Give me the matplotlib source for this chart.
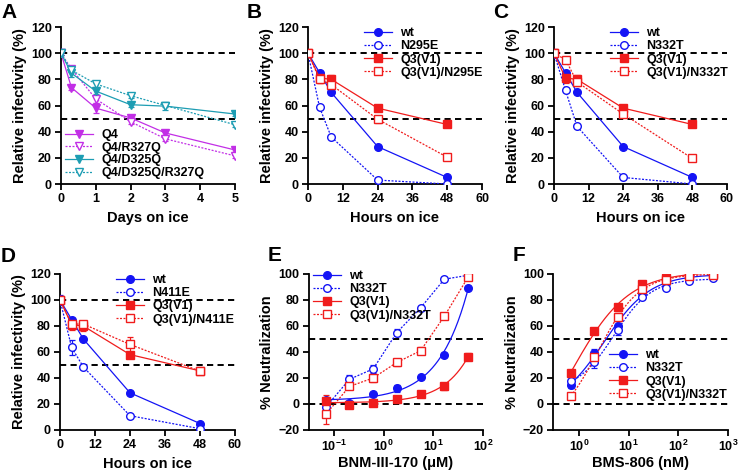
import numpy as np
import matplotlib
matplotlib.use("Agg")
import matplotlib.pyplot as plt
from matplotlib.lines import Line2D

plt.rcParams['font.family'] = ['Liberation Sans', 'DejaVu Sans']
plt.rcParams['font.weight'] = 'bold'
plt.rcParams['axes.labelweight'] = 'bold'
plt.rcParams['mathtext.default'] = 'bf'

BLUE = '#1414f5'
RED = '#f01c1c'
MAG = '#c22fe6'
TEAL = '#1d9db3'

# ---------------- data ----------------
# Panel A (days on ice)
a_days = [0, 0.3, 1, 2, 3, 5]
a_labels = ['Q4', 'Q4/R327Q', 'Q4/D325Q', 'Q4/D325Q/R327Q']
a_q4 = [100, 73.7, 58, 50.5, 39, 26]
a_q4_err = [1.5, 1.5, 4, 1.5, 1.5, 1.5]
a_q4r = [100, 88, 65, 47.6, 34.5, 21.5]
a_q4r_err = [1.5, 2, 3, 1.5, 1.5, 1.5]
a_q4d = [100, 84.7, 71, 60.6, 59.5, 53.5]
a_q4d_err = [1.5, 3, 2.5, 1.5, 3, 1.5]
a_q4dr = [100, 87, 76.5, 67.5, 60, 45.3]
a_q4dr_err = [1.5, 1.5, 2, 1.5, 1.5, 1.5]

# Panels B-D (hours on ice)
hours = [0, 4, 8, 24, 48]
wt_cold = [100, 85, 70, 28.6, 5]
wt_cold_err = [1.5, 1.5, 1.0, 1.0, 1.0]
q3_cold = [100, 81, 80, 58, 45.5]
q3_cold_err = [2, 4, 3.5, 1.5, 1.0]

b_labels = ['wt', 'N295E', 'Q3(V1)', 'Q3(V1)/N295E']
b_n295e = [100, 58.5, 36, 3, 0]
b_n295e_err = [1, 1.5, 1, 1, 0.5]
b_q3n295e = [100, 80, 76, 49.5, 20.5]
b_q3n295e_err = [1.5, 3, 2, 2.5, 1.5]

c_labels = ['wt', 'N332T', 'Q3(V1)', 'Q3(V1)/N332T']
c_n332t = [100, 71.5, 44, 5, 0]
c_n332t_err = [3.5, 1.5, 1.5, 1, 0.5]
c_q3n332t = [100, 95, 78, 53.5, 19.5]
c_q3n332t_err = [1.5, 1.5, 3, 1.5, 1.5]

d_labels = ['wt', 'N411E', 'Q3(V1)', 'Q3(V1)/N411E']
d_n411e = [100, 63.5, 48.5, 11, 1]
d_n411e_err = [4, 6, 1.5, 1.5, 0.5]
d_q3n411e = [100, 81.5, 81.5, 65.8, 45.3]
d_q3n411e_err = [2, 2, 2.5, 6, 1]

# Panel E (BNM-III-170, uM)
e_conc = [0.0686, 0.206, 0.617, 1.85, 5.56, 16.7, 50]
e_labels = ['wt', 'N332T', 'Q3(V1)', 'Q3(V1)/N332T']
e_wt = [3, 0.5, 8, 12, 21, 38, 89]
e_wt_err = [2, 1, 1.5, 3, 1.5, 1.5, 1.5]
e_n332t = [-2.5, 19, 27, 55, 74, 96, 99]
e_n332t_err = [2.5, 3, 3, 3, 1.5, 1.5, 1.5]
e_q3 = [2, -0.5, 1, 4, 8, 13.5, 36.5]
e_q3_err = [5, 1, 1, 1, 2, 3, 2.5]
e_q3n332t = [-8, 13.5, 20, 32, 41, 67.5, 97.5]
e_q3n332t_err = [7, 2, 3, 3, 2.5, 1.5, 1.5]

# Panel F (BMS-806, nM)
f_conc = [0.686, 2.06, 6.17, 18.5, 55.6, 167, 500]
f_labels = ['wt', 'N332T', 'Q3(V1)', 'Q3(V1)/N332T']
f_wt = [15, 39, 60, 85.4, 93, 97, 98.7]
f_wt_err = [3, 3.5, 4, 1.5, 1.5, 1, 1]
f_n332t = [17.5, 32, 57, 82, 89, 95, 97]
f_n332t_err = [2, 4, 4, 1.5, 1.5, 1.5, 1]
f_q3 = [24, 56, 74.4, 92, 97, 99.5, 100]
f_q3_err = [2.5, 2, 1.5, 1.5, 1, 1, 1]
f_q3n332t = [6, 36, 66.7, 88.5, 95.6, 98.7, 99.5]
f_q3n332t_err = [2, 2, 3, 1.5, 1, 1, 1]


# ---------------- helpers ----------------
def hill_fit(x, y):
    """4-parameter logistic fit by grid search (bottom/top solved linearly)."""
    x = np.asarray(x, float)
    y = np.asarray(y, float)
    lic = np.linspace(-2.5, 3.5, 601)
    hs = np.linspace(0.3, 4.0, 186)
    L, H = np.meshgrid(lic, hs, indexing='ij')
    s = 1.0 / (1.0 + (10 ** L[..., None] / x) ** H[..., None])
    sm = s.mean(-1)
    ym = y.mean()
    cov = ((s - sm[..., None]) * (y - ym)).sum(-1)
    var = ((s - sm[..., None]) ** 2).sum(-1) + 1e-12
    b = cov / var
    a = ym - b * sm
    res = ((a[..., None] + b[..., None] * s - y) ** 2).sum(-1)
    i = np.unravel_index(np.argmin(res), res.shape)
    return a[i], b[i], 10 ** L[i], H[i]


def hill_curve(params, xx):
    a, b, ic, h = params
    return a + b / (1.0 + (ic / xx) ** h)


def style_axes(ax):
    for sp in ['top', 'right']:
        ax.spines[sp].set_visible(False)
    for sp in ['left', 'bottom']:
        ax.spines[sp].set_linewidth(1.3)
    ax.tick_params(axis='both', which='major', length=4.5, width=1.3,
                   labelsize=9, pad=2)
    ax.tick_params(axis='both', which='minor', length=0)
    for lab in ax.get_xticklabels() + ax.get_yticklabels():
        lab.set_fontweight('bold')


def hline(ax, y):
    ax.axhline(y, color='black', lw=1.4, ls=(0, (3.2, 2.2)), zorder=1)


DOT = (0, (1.6, 1.2))


def series(ax, x, y, err, color, marker, filled, line=True, z=3):
    ls = '-' if filled else DOT
    mfc = color if filled else 'white'
    ax.errorbar(x, y, yerr=err, fmt='none', ecolor=color, elinewidth=0.9,
                capsize=2.5, capthick=0.9, zorder=z)
    ax.plot(x, y, ls=ls if line else 'none', color=color, lw=0.9,
            marker=marker, ms=5.5, mfc=mfc, mec=color, mew=1.0, zorder=z + 1)


def handle(color, marker, filled):
    return Line2D([], [], color=color, lw=0.9, ls='-' if filled else DOT,
                  marker=marker, ms=5.5, mfc=color if filled else 'white',
                  mec=color, mew=1.0)


def legend(ax, handles, labels, x, y, spacing=0.1):
    ax.legend(handles, labels, loc='upper left', bbox_to_anchor=(x, y),
              bbox_transform=fig.transFigure, frameon=False,
              borderpad=0, borderaxespad=0, handlelength=2.2,
              handletextpad=0.7, labelspacing=spacing,
              prop={'weight': 'bold', 'size': 9})


W, Hh = 738, 472
fig = plt.figure(figsize=(W / 100, Hh / 100), dpi=100)


def add_axes(l, r, t, b):
    return fig.add_axes([l / W, 1 - b / Hh, (r - l) / W, (b - t) / Hh])


def panel_letter(x, y, s):
    fig.text(x / W, 1 - y / Hh, s, fontsize=15, fontweight='bold',
             va='top', ha='left')


LABEL_FS = 10.5

# ---------------- Panel A ----------------
axA = add_axes(61, 235, 27, 184)
hline(axA, 100)
hline(axA, 50)
series(axA, a_days, a_q4, a_q4_err, MAG, 'v', True)
series(axA, a_days, a_q4r, a_q4r_err, MAG, 'v', False)
series(axA, a_days, a_q4d, a_q4d_err, TEAL, 'v', True)
series(axA, a_days, a_q4dr, a_q4dr_err, TEAL, 'v', False)
axA.set_xlim(0, 5)
axA.set_ylim(0, 120)
axA.set_xticks(range(0, 6))
axA.set_yticks(range(0, 121, 20))
axA.set_xlabel('Days on ice', fontsize=LABEL_FS, labelpad=4)
axA.set_ylabel('Relative infectivity (%)', fontsize=LABEL_FS, labelpad=3)
style_axes(axA)
legend(axA, [handle(MAG, 'v', True), handle(MAG, 'v', False),
             handle(TEAL, 'v', True), handle(TEAL, 'v', False)],
       a_labels, 65 / W, 1 - 129 / Hh, spacing=0.05)
panel_letter(1, 3, 'A')


def cold_panel(ax, mut, mut_err, q3m, q3m_err, labels, lx, ly):
    hline(ax, 100)
    hline(ax, 50)
    series(ax, hours, wt_cold, wt_cold_err, BLUE, 'o', True)
    series(ax, hours, mut, mut_err, BLUE, 'o', False)
    series(ax, hours, q3_cold, q3_cold_err, RED, 's', True)
    series(ax, hours, q3m, q3m_err, RED, 's', False)
    ax.set_xlim(0, 60)
    ax.set_ylim(0, 120)
    ax.set_xticks(range(0, 61, 12))
    ax.set_yticks(range(0, 121, 20))
    ax.set_xlabel('Hours on ice', fontsize=LABEL_FS, labelpad=4)
    ax.set_ylabel('Relative infectivity (%)', fontsize=LABEL_FS, labelpad=3)
    style_axes(ax)
    legend(ax, [handle(BLUE, 'o', True), handle(BLUE, 'o', False),
                handle(RED, 's', True), handle(RED, 's', False)],
           labels, lx / W, 1 - ly / Hh)


axB = add_axes(308, 482, 27, 184)
cold_panel(axB, b_n295e, b_n295e_err, b_q3n295e, b_q3n295e_err, b_labels, 364, 27)
panel_letter(247, 3, 'B')

axC = add_axes(554, 727, 27, 184)
cold_panel(axC, c_n332t, c_n332t_err, c_q3n332t, c_q3n332t_err, c_labels, 610, 27)
panel_letter(493, 3, 'C')

axD = add_axes(60, 235, 274, 430)
cold_panel(axD, d_n411e, d_n411e_err, d_q3n411e, d_q3n411e_err, d_labels, 116, 274)
panel_letter(1, 247, 'D')


def neut_panel(ax, conc, ys, errs, labels, fit_flags, xlim, lx, ly):
    hline(ax, 50)
    hline(ax, 0)
    specs = [(BLUE, 'o', True), (BLUE, 'o', False), (RED, 's', True), (RED, 's', False)]
    xx = np.logspace(np.log10(conc[0]), np.log10(conc[-1]), 300)
    for (c, m, f), y, e, fit in zip(specs, ys, errs, fit_flags):
        if fit:
            p = hill_fit(conc, y)
            ax.plot(xx, hill_curve(p, xx), color=c, lw=0.9,
                    ls='-' if f else DOT, zorder=3)
            series(ax, conc, y, e, c, m, f, line=False)
        else:
            series(ax, conc, y, e, c, m, f, line=True)
    ax.set_xscale('log')
    ax.set_xlim(*xlim)
    ax.set_ylim(-20, 100)
    ax.set_yticks(range(-20, 101, 20))
    ax.set_ylabel('% Neutralization', fontsize=LABEL_FS, labelpad=3)
    style_axes(ax)
    legend(ax, [handle(*s) for s in specs], labels, lx / W, 1 - ly / Hh)


axE = add_axes(308.5, 483, 274, 430)
neut_panel(axE, e_conc, [e_wt, e_n332t, e_q3, e_q3n332t],
           [e_wt_err, e_n332t_err, e_q3_err, e_q3n332t_err], e_labels,
           [True, False, True, False], (10 ** -1.51, 100), 313, 270)
axE.set_xticks([0.1, 1, 10, 100])
axE.set_xlabel('BNM-III-170 (\u03bcM)', fontsize=LABEL_FS)
axE.xaxis.set_label_coords(0.5, -0.165)
panel_letter(268, 246, 'E')

axF = add_axes(553, 728, 274, 430)
neut_panel(axF, f_conc, [f_wt, f_n332t, f_q3, f_q3n332t],
           [f_wt_err, f_n332t_err, f_q3_err, f_q3n332t_err], f_labels,
           [True, True, True, True], (10 ** -0.52, 1000), 609, 349)
axF.set_xticks([1, 10, 100, 1000])
axF.set_xlabel('BMS-806 (nM)', fontsize=LABEL_FS)
axF.xaxis.set_label_coords(0.5, -0.165)
panel_letter(513, 246, 'F')

fig.savefig('out.png', dpi=100)
